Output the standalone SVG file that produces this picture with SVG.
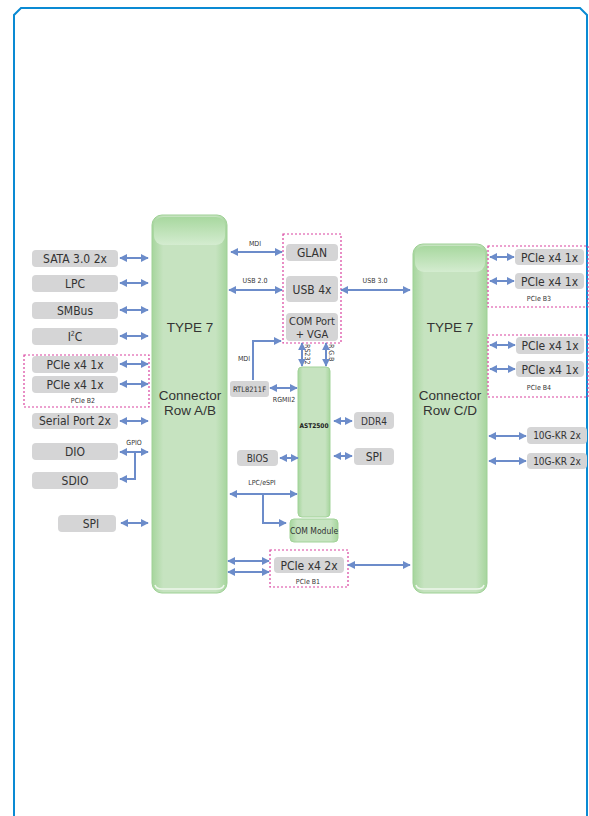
<svg xmlns="http://www.w3.org/2000/svg" width="589" height="816" viewBox="0 0 589 816">
<defs>
<style>
.g{fill:#d5d5d6}
.t{font-family:"DejaVu Sans Condensed","Liberation Sans",sans-serif;fill:#333;text-anchor:middle}
.l{font-size:12px}
.s{font-size:7px}
.big{font-family:"Liberation Sans",sans-serif;font-size:13.5px;fill:#333;text-anchor:middle}
.pk{fill:none;stroke:#d9439f;stroke-width:1.2;stroke-dasharray:2 2}
.c path{fill:none;stroke:#6c8cca;stroke-width:2}
.c .b{marker-start:url(#ah);marker-end:url(#ah)}
.c .e{marker-end:url(#ah)}
</style>
<marker id="ah" viewBox="0 0 10 10" refX="9" refY="5" markerWidth="8" markerHeight="8" markerUnits="userSpaceOnUse" orient="auto-start-reverse">
<path d="M0,0 L10,5 L0,10 z" fill="#6c8cca"/>
</marker>
<linearGradient id="gh" x1="0" y1="0" x2="1" y2="0">
<stop offset="0" stop-color="#a6d59d"/>
<stop offset="0.15" stop-color="#c6e3c0"/>
<stop offset="0.85" stop-color="#c6e3c0"/>
<stop offset="1" stop-color="#a6d59d"/>
</linearGradient>
<linearGradient id="gt" x1="0" y1="0" x2="0" y2="1">
<stop offset="0" stop-color="#a8d89f"/>
<stop offset="1" stop-color="#d4ecd0"/>
</linearGradient>
</defs>
<rect width="589" height="816" fill="#fff"/>
<path d="M14,816 V15 L21,8 H580 L587,15 V816" fill="none" stroke="#0a8ad3" stroke-width="2"/>

<g id="rowAB">
<rect x="152" y="215" width="75" height="378" rx="10" fill="url(#gh)" stroke="#9fd196" stroke-width="1"/>
<rect x="154" y="217" width="71" height="28" rx="9" fill="url(#gt)"/>
<path d="M155,585 Q156,589 162,589 H217 Q223,589 224,585" fill="none" stroke="#eef7ec" stroke-width="1.5"/>
<text class="big" x="190" y="332">TYPE 7</text>
<text class="big" x="190" y="400">Connector</text>
<text class="big" x="190" y="415">Row A/B</text>
</g>
<g id="rowCD">
<rect x="413" y="244" width="74" height="349" rx="10" fill="url(#gh)" stroke="#9fd196" stroke-width="1"/>
<rect x="415" y="246" width="70" height="26" rx="9" fill="url(#gt)"/>
<path d="M416,585 Q417,589 423,589 H477 Q483,589 484,585" fill="none" stroke="#eef7ec" stroke-width="1.5"/>
<text class="big" x="450" y="332">TYPE 7</text>
<text class="big" x="450" y="400">Connector</text>
<text class="big" x="450" y="415">Row C/D</text>
</g>

<g id="sata"><rect class="g" x="32" y="250" width="86" height="17" rx="4"/><text class="t l" x="75" y="263">SATA 3.0 2x</text></g>
<g id="lpc"><rect class="g" x="32" y="275" width="86" height="17" rx="4"/><text class="t l" x="75" y="288">LPC</text></g>
<g id="smbus"><rect class="g" x="32" y="302" width="86" height="17" rx="4"/><text class="t l" x="75" y="315">SMBus</text></g>
<g id="i2c"><rect class="g" x="32" y="328" width="86" height="17" rx="4"/><text class="t l" x="75" y="341">I<tspan font-size="7" dy="-5">2</tspan><tspan dy="5">C</tspan></text></g>
<g id="pcieB2">
<rect class="pk" x="24" y="355" width="125" height="52"/>
<rect class="g" x="32" y="356" width="86" height="17" rx="4"/><text class="t l" x="75" y="369">PCIe x4 1x</text>
<rect class="g" x="32" y="376" width="86" height="17" rx="4"/><text class="t l" x="75" y="389">PCIe x4 1x</text>
<text class="t s" x="83" y="403">PCIe B2</text>
</g>
<g id="serial"><rect class="g" x="32" y="413" width="86" height="16" rx="4"/><text class="t l" x="75" y="425">Serial Port 2x</text></g>
<g id="dio"><rect class="g" x="32" y="443" width="86" height="17" rx="4"/><text class="t l" x="75" y="456">DIO</text></g>
<g id="sdio"><rect class="g" x="32" y="472" width="86" height="17" rx="4"/><text class="t l" x="75" y="485">SDIO</text></g>
<g id="spiL"><rect class="g" x="58" y="515" width="58" height="17" rx="4"/><text class="t l" x="91" y="528">SPI</text></g>

<g id="pinkTop"><rect class="pk" x="283" y="234" width="58" height="109"/></g>
<g id="glan"><rect class="g" x="286" y="244" width="52" height="17" rx="4"/><text class="t l" x="312" y="257">GLAN</text></g>
<g id="usb4"><rect class="g" x="286" y="276" width="52" height="26" rx="4"/><text class="t l" x="312" y="294">USB 4x</text></g>
<g id="comvga"><rect class="g" x="286" y="313" width="52" height="28" rx="4"/><text class="t" style="font-size:11px" x="312" y="325">COM Port</text><text class="t" style="font-size:11px" x="312" y="338">+ VGA</text></g>

<g id="rtl"><rect class="g" x="230" y="381" width="39" height="16" rx="3"/><text class="t" style="font-size:7.5px" x="249.5" y="392">RTL8211F</text></g>
<g id="ast">
<rect x="298" y="367" width="32" height="150" rx="4" fill="url(#gh)" stroke="#a2d399" stroke-width="1"/>
<text class="t" style="font-size:6.5px;font-weight:bold;fill:#222" x="314" y="428">AST2500</text>
</g>
<g id="ddr4"><rect class="g" x="354" y="412" width="40" height="17" rx="4"/><text class="t" style="font-size:10px" x="374" y="424.5">DDR4</text></g>
<g id="spiR"><rect class="g" x="354" y="448" width="40" height="17" rx="4"/><text class="t l" x="374" y="461">SPI</text></g>
<g id="bios"><rect class="g" x="237" y="450" width="41" height="16" rx="4"/><text class="t" style="font-size:10px" x="257.5" y="462">BIOS</text></g>
<g id="commod">
<rect x="290" y="519" width="48" height="23" rx="4" fill="url(#gh)" stroke="#a2d399" stroke-width="1"/>
<text class="t" style="font-size:8.5px" x="314" y="534">COM Module</text>
</g>
<g id="pcieB1">
<rect class="pk" x="270" y="550" width="78" height="37"/>
<rect class="g" x="274" y="557" width="70" height="16" rx="4"/><text class="t l" x="309" y="570">PCIe x4 2x</text>
<text class="t s" x="308" y="584">PCIe B1</text>
</g>

<g id="pcieB3">
<rect class="pk" x="488" y="246" width="100" height="61"/>
<rect class="g" x="515" y="249" width="69" height="16" rx="4"/><text class="t l" x="549.5" y="261.5">PCIe x4 1x</text>
<rect class="g" x="515" y="273" width="69" height="16" rx="4"/><text class="t l" x="549.5" y="285.5">PCIe x4 1x</text>
<text class="t s" x="539" y="301">PCIe B3</text>
</g>
<g id="pcieB4">
<rect class="pk" x="488" y="335" width="100" height="62"/>
<rect class="g" x="516" y="337" width="68" height="17" rx="4"/><text class="t l" x="550" y="350">PCIe x4 1x</text>
<rect class="g" x="516" y="361" width="68" height="16" rx="4"/><text class="t l" x="550" y="373.5">PCIe x4 1x</text>
<text class="t s" x="539" y="390">PCIe B4</text>
</g>
<g id="kr1"><rect class="g" x="527" y="427" width="60" height="17" rx="4"/><text class="t" style="font-size:10px" x="557" y="439">10G-KR 2x</text></g>
<g id="kr2"><rect class="g" x="527" y="453" width="60" height="16" rx="4"/><text class="t" style="font-size:10px" x="557" y="464.5">10G-KR 2x</text></g>

<g id="labels" class="t s">
<text x="255" y="246">MDI</text>
<text x="255" y="283">USB 2.0</text>
<text x="375" y="283">USB 3.0</text>
<text x="244" y="361">MDI</text>
<text x="284" y="402">RGMII2</text>
<text x="262" y="485">LPC/eSPI</text>
<text x="134" y="445">GPIO</text>
<text transform="translate(305,344) rotate(90)" style="text-anchor:start">RS232</text>
<text transform="translate(329,344) rotate(90)" style="text-anchor:start">R.G.B</text>
</g>

<g id="connectors" class="c">
<path class="b" d="M120,258 H148"/>
<path class="b" d="M120,283 H148"/>
<path class="b" d="M120,310 H148"/>
<path class="b" d="M120,336 H148"/>
<path class="b" d="M120,364 H148"/>
<path class="b" d="M120,384 H148"/>
<path class="b" d="M120,421 H148"/>
<path class="b" d="M120,452 H148"/>
<path class="e" d="M135,452 V479 H120"/>
<path class="b" d="M121,523 H148"/>
<path class="b" d="M231,252 H282"/>
<path class="b" d="M229,290 H282"/>
<path class="b" d="M341,290 H410"/>
<path class="e" d="M253,380 V341 H281"/>
<path class="b" d="M302,343 V366"/>
<path class="b" d="M326,343 V366"/>
<path class="b" d="M270,388 H297"/>
<path class="b" d="M334,421 H352"/>
<path class="b" d="M334,456 H352"/>
<path class="b" d="M280,458 H298"/>
<path class="b" d="M230,494 H297"/>
<path class="e" d="M263,494 V523 H286"/>
<path class="b" d="M228,561 H269"/>
<path class="b" d="M228,572 H269"/>
<path class="b" d="M348,565 H410"/>
<path class="b" d="M490,257 H514"/>
<path class="b" d="M490,281 H514"/>
<path class="b" d="M490,345 H515"/>
<path class="b" d="M490,369 H515"/>
<path class="b" d="M489,436 H526"/>
<path class="b" d="M489,461 H526"/>
</g>
</svg>
